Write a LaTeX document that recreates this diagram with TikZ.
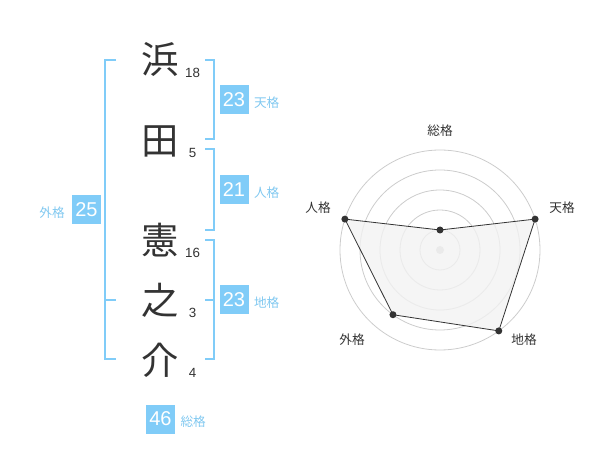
\documentclass[tikz,border=0pt]{standalone}
\usepackage{fontspec}
\setmainfont{Liberation Sans}
\newfontfamily\jp{Noto Sans CJK JP}
\usetikzlibrary{positioning}
\definecolor{kakusky}{RGB}{128,204,248}
\definecolor{kakutext}{RGB}{128,200,240}
\definecolor{inkgray}{RGB}{51,51,51}
\definecolor{ringgray}{RGB}{204,204,204}
\definecolor{webfill}{RGB}{242,242,242}

\begin{document}
\begin{tikzpicture}[x=0.75pt,y=-0.75pt]
  \tikzstyle{kanji}=[font=\jp\fontsize{28}{28}\selectfont,text=inkgray,inner sep=0pt]
  \tikzstyle{strokes}=[font=\fontsize{10}{10}\selectfont,text=inkgray,inner sep=0pt]
  \tikzstyle{score}=[fill=kakusky,text=white,minimum size=21.75pt,inner sep=0pt,
  		     font=\fontsize{15}{15}\selectfont]
  \tikzstyle{kaku}=[font=\jp\fontsize{9.5}{9.5}\selectfont,text=kakutext,inner sep=0pt]
  \tikzstyle{bracket}=[draw=kakusky,line width=1.5pt]
  \tikzstyle{ring}=[draw=ringgray,line width=0.6pt]
  \tikzstyle{web}=[draw=inkgray,fill=webfill,line width=0.6pt]
  \tikzstyle{axis label}=[font=\jp\fontsize{9.5}{9.5}\selectfont,text=inkgray,inner sep=0pt]
  \useasboundingbox (0,0) rectangle (600,470);
  % name
  \node [kanji] (c1) at (160,60)  {浜};
  \node [kanji] (c2) at (160,141) {田};
  \node [kanji] (c3) at (160,240) {憲};
  \node [kanji] (c4) at (160,300) {之};
  \node [kanji] (c5) at (160,360) {介};
  \node [strokes] (n1) at (192.5,73)  {18};
  \node [strokes] (n2) at (192.5,153) {5};
  \node [strokes] (n3) at (192.5,253) {16};
  \node [strokes] (n4) at (192.5,313) {3};
  \node [strokes] (n5) at (192.5,373) {4};
  % brackets
  \draw [bracket] (205,60) -- (214,60) -- (214,139) -- (205,139);
  \draw [bracket] (205,149) -- (214,149) -- (214,230) -- (205,230);
  \draw [bracket] (205,240) -- (214,240) -- (214,359) -- (205,359);
  \draw [bracket] (205,300) -- (214,300);
  \draw [bracket] (116,60) -- (105,60) -- (105,359) -- (116,359);
  \draw [bracket] (105,300) -- (116,300);
  % scores
  \node [score] (ten) at (234,100) {23};
  \node [kaku] [right=3.75pt of ten,yshift=-2pt] {天格};
  \node [score] (jin) at (234,190) {21};
  \node [kaku] [right=3.75pt of jin,yshift=-2pt] {人格};
  \node [score] (chi) at (234,300) {23};
  \node [kaku] [right=3.75pt of chi,yshift=-2pt] {地格};
  \node [score] (gai) at (86.5,210) {25};
  \node [kaku] [left=5pt of gai,yshift=-2pt] {外格};
  \node [score] (so) at (160.5,419) {46};
  \node [kaku] [right=3.75pt of so,yshift=-2pt] {総格};
  % radar
  \begin{scope}[shift={(440,250)},yscale=-1]
    \foreach \r in {20,40,60,80,100}
      \draw [ring] (0,0) circle (\r);
    \fill [ringgray] (0,0) circle (4);
    \coordinate (rso)  at (90:20);
    \coordinate (rten) at (18:100);
    \coordinate (rchi) at (-54:100);
    \coordinate (rgai) at (-126:80);
    \coordinate (rjin) at (162:100);
    \draw [web,fill opacity=0.8] (rso) -- (rten) -- (rchi) -- (rgai) -- (rjin) -- cycle;
    \foreach \p in {rso,rten,rchi,rgai,rjin}
      \fill [inkgray] (\p) circle (3.5);
    \node [axis label] at (0,119)   {総格};
    \node [axis label] at (122,42)  {天格};
    \node [axis label] at (84,-90)  {地格};
    \node [axis label] at (-88,-90) {外格};
    \node [axis label] at (-122,42) {人格};
  \end{scope}
\end{tikzpicture}
\end{document}
